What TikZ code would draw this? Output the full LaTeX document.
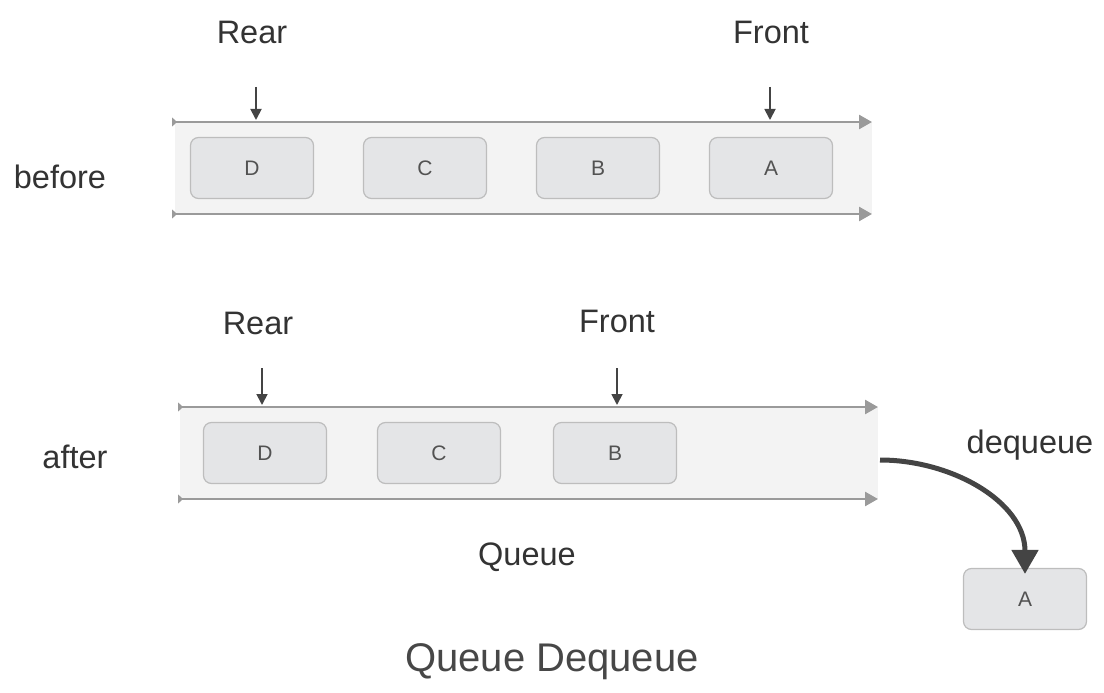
\documentclass[tikz,border=0pt]{standalone}
\usepackage{fontspec}
\setmainfont{Liberation Sans}
\usetikzlibrary{arrows.meta}
\definecolor{txt}{HTML}{333333}
\definecolor{band}{HTML}{F3F3F3}
\definecolor{rail}{HTML}{9A9A9A}
\definecolor{boxfill}{HTML}{E4E5E7}
\definecolor{boxline}{HTML}{BDBDBD}
\definecolor{ptr}{HTML}{444444}
\tikzset{
  elem/.style={draw=boxline, fill=boxfill, line width=1.2pt, rounded corners=8pt,
    minimum width=123pt, minimum height=61pt, inner sep=0pt, text=txt!85,
    font=\fontsize{21}{25}\selectfont},
  lbl/.style={text=txt, font=\fontsize{32.5}{38}\selectfont, inner sep=0pt},
  raillinestyle/.style={draw=rail, line width=2.5pt,
    {Triangle[length=5pt,width=9pt,reversed]}-{Triangle[length=13pt,width=14pt]}},
  ptrarrow/.style={draw=ptr, line width=1.8pt, -{Triangle[length=11pt,width=11pt]}},
  bigarrow/.style={draw=ptr, line width=5pt, -{Triangle[length=24pt,width=26pt]}}
}
\begin{document}
\begin{tikzpicture}[x=1pt,y=-1pt]
\useasboundingbox (0,0) rectangle (1104,693);
% ---------- before ----------
\fill[band] (175,122) rectangle (872,214);
\coordinate (t1s) at (172,122); \coordinate (t1e) at (872,122);
\coordinate (b1s) at (172,214); \coordinate (b1e) at (872,214);
\draw[raillinestyle] (t1s) -- (t1e);
\draw[raillinestyle] (b1s) -- (b1e);
\node[elem] (D1) at (252,168) {D};
\node[elem] (C1) at (425,168) {C};
\node[elem] (B1) at (598,168) {B};
\node[elem] (A1) at (771,168) {A};
\node[lbl] (rear1) at (252,32) {Rear};
\node[lbl] (front1) at (771,32) {Front};
\coordinate (rear1p) at (256,120);
\coordinate (front1p) at (770,120);
\draw[ptrarrow] (rear1p |- 0,87) -- (rear1p);
\draw[ptrarrow] (front1p |- 0,87) -- (front1p);
\node[lbl] (before) at (60,177) {before};
% ---------- after ----------
\fill[band] (180,407) rectangle (878,499);
\coordinate (t2s) at (178,407); \coordinate (t2e) at (878,407);
\coordinate (b2s) at (178,499); \coordinate (b2e) at (878,499);
\draw[raillinestyle] (t2s) -- (t2e);
\draw[raillinestyle] (b2s) -- (b2e);
\node[elem] (D2) at (265,453) {D};
\node[elem] (C2) at (439,453) {C};
\node[elem] (B2) at (615,453) {B};
\node[lbl] (rear2) at (258,323) {Rear};
\node[lbl] (front2) at (617,321) {Front};
\coordinate (rear2p) at (262,405);
\coordinate (front2p) at (617,405);
\draw[ptrarrow] (rear2p |- 0,368) -- (rear2p);
\draw[ptrarrow] (front2p |- 0,368) -- (front2p);
\node[lbl] (after) at (75,457) {after};
\node[lbl] (queue) at (527,557) {Queue};
\node[lbl] (deq) at (1030,445) {dequeue};
\node[elem] (A2) at (1025,599) {A};
\coordinate (out) at (880,460);
\draw[bigarrow] (out) to[out=0,in=90] ([yshift=-6pt]A2.north);
\node[text=txt!90, font=\fontsize{40}{48}\selectfont, inner sep=0pt] (title) at (552,662) {Queue Dequeue};
\end{tikzpicture}
\end{document}
